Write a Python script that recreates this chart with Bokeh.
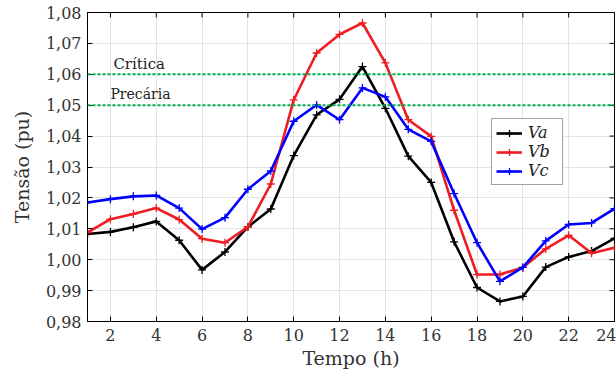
import math
from bokeh.plotting import figure
from bokeh.models import (Range1d, FixedTicker, CustomJSTickFormatter,
                          Legend, LegendItem, Span, Label)
from bokeh.embed import file_html
from bokeh.resources import INLINE

hours = list(range(1, 25))
va = [1.0083, 1.0090, 1.0105, 1.0124, 1.0063, 0.9967, 1.0025, 1.0106, 1.0164, 1.0337,
      1.0469, 1.0519, 1.0625, 1.0490, 1.0335, 1.0250, 1.0058, 0.9910, 0.9865, 0.9881,
      0.9976, 1.0009, 1.0028, 1.0069]
vb = [1.0088, 1.0131, 1.0148, 1.0167, 1.0130, 1.0068, 1.0055, 1.0106, 1.0245, 1.0517,
      1.0669, 1.0729, 1.0766, 1.0637, 1.0453, 1.0399, 1.0160, 0.9952, 0.9952, 0.9975,
      1.0035, 1.0079, 1.0021, 1.0039]
vc = [1.0185, 1.0196, 1.0205, 1.0208, 1.0167, 1.0099, 1.0136, 1.0228, 1.0287, 1.0448,
      1.0501, 1.0453, 1.0556, 1.0527, 1.0422, 1.0383, 1.0214, 1.0055, 0.9930, 0.9975,
      1.0061, 1.0114, 1.0119, 1.0165]
series_names = ["Va", "Vb", "Vc"]
limits = [1.06, 1.05]
limit_labels = ["Crítica", "Precária"]
x_ticks = list(range(2, 25, 2))
y_ticks = [0.98, 0.99, 1.00, 1.01, 1.02, 1.03, 1.04, 1.05, 1.06, 1.07, 1.08]
X_MIN, X_MAX, Y_MIN, Y_MAX = 1, 24, 0.98, 1.08

FONT = "DejaVu Serif"

p = figure(width=616, height=371, output_backend="svg", toolbar_location=None,
           x_range=Range1d(X_MIN, X_MAX), y_range=Range1d(Y_MIN, Y_MAX),
           min_border_left=87, min_border_right=2, min_border_top=12, min_border_bottom=49)
p.background_fill_color = "white"
p.border_fill_color = "white"
p.outline_line_color = "black"
p.outline_line_width = 1

fmt = CustomJSTickFormatter(code="return tick.toFixed(2).replace('.', ',');")

for ax in [p.xaxis[0], p.yaxis[0]]:
    ax.major_tick_in = 5
    ax.major_tick_out = 0
    ax.minor_tick_in = 0
    ax.minor_tick_out = 0
    ax.axis_line_color = "black"
    ax.major_tick_line_color = "black"
    ax.major_label_text_font = FONT
    ax.major_label_text_font_size = "16px"
    ax.major_label_text_color = "#333333"
    ax.axis_label_text_font = FONT
    ax.axis_label_text_font_size = "19px"
    ax.axis_label_text_font_style = "normal"
    ax.axis_label_text_color = "#333333"

p.xaxis[0].ticker = FixedTicker(ticks=x_ticks)
p.yaxis[0].ticker = FixedTicker(ticks=y_ticks)
p.yaxis[0].formatter = fmt
p.xaxis[0].axis_label = "Tempo (h)"
p.yaxis[0].axis_label = "Tensão (pu)"
p.xaxis[0].major_label_standoff = 7
p.yaxis[0].major_label_standoff = 6
p.xaxis[0].axis_label_standoff = 3
p.yaxis[0].axis_label_standoff = 10

p.xgrid.ticker = FixedTicker(ticks=x_ticks)
p.ygrid.ticker = FixedTicker(ticks=y_ticks)
p.xgrid.grid_line_color = "#e3e3e3"
p.ygrid.grid_line_color = "#e3e3e3"
p.xgrid.grid_line_width = 1
p.ygrid.grid_line_width = 1

# inward ticks on the top and right edges (dash markers centred on the frame edge, clipped)
p.scatter(x_ticks, [Y_MAX] * len(x_ticks), marker="dash", angle=math.pi / 2, size=10,
          line_color="black", line_width=1)
p.scatter([X_MAX] * len(y_ticks), y_ticks, marker="dash", size=10,
          line_color="black", line_width=1)

for lv in limits:
    p.add_layout(Span(location=lv, dimension="width", line_color="#00b050",
                      line_width=2, line_dash="3 2"))

p.add_layout(Label(x=2.13, y=limits[0] + 0.0034, text=limit_labels[0], text_baseline="alphabetic",
                   text_font=FONT, text_font_size="15px", text_color="#222222"))
p.add_layout(Label(x=2.0, y=limits[1] + 0.0036, text=limit_labels[1], text_baseline="alphabetic",
                   text_font=FONT, text_font_size="14px", text_color="#222222"))

colors = ["black", "#ee1d23", "#0000ff"]
items = []
for name, ys, c in zip(series_names, [va, vb, vc], colors):
    ln = p.line(hours, ys, line_color=c, line_width=2.6)
    sc = p.scatter(hours, ys, marker="cross", size=8, line_color=c, line_width=1.3)
    items.append(LegendItem(label=name, renderers=[ln, sc]))

legend = Legend(items=items, location=(404, 136),
                label_text_font=FONT, label_text_font_style="italic",
                label_text_font_size="16px", label_text_color="#222222",
                glyph_width=26, glyph_height=18, label_height=18, label_width=30,
                label_standoff=6, spacing=0, padding=4, margin=0,
                border_line_color="#444444", border_line_width=1.5,
                background_fill_color="white", background_fill_alpha=1)
p.add_layout(legend, "center")

open("out.html", "w").write(file_html(p, INLINE))
